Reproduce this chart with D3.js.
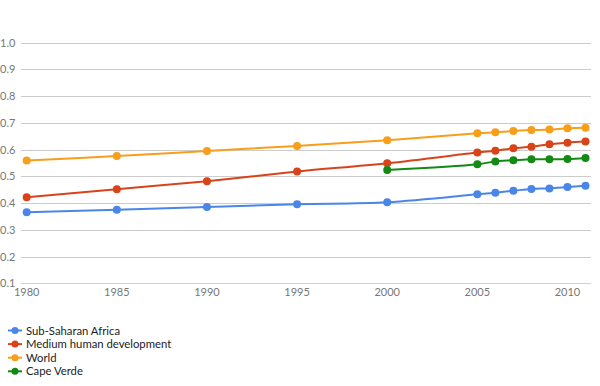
<!DOCTYPE html>
<html>
<head>
<meta charset="utf-8">
<script src="https://cdn.jsdelivr.net/npm/d3@7"></script>
<style>
	body { margin: 0; background: #fff; }
	svg { display: block; font-family: "Lato", "DejaVu Sans", sans-serif; }
</style>
</head>
<body>
<svg id="chart" width="600" height="386"></svg>
<script>
// data
const years = [1980, 1985, 1990, 1995, 2000, 2005, 2006, 2007, 2008, 2009, 2010, 2011];
const capeVerdeYears = [2000, 2005, 2006, 2007, 2008, 2009, 2010, 2011];
const subSaharan = [0.366, 0.375, 0.385, 0.396, 0.403, 0.433, 0.439, 0.446, 0.453, 0.455, 0.460, 0.465];
const mediumHD = [0.422, 0.452, 0.482, 0.518, 0.549, 0.589, 0.596, 0.605, 0.611, 0.620, 0.626, 0.630];
const world = [0.559, 0.576, 0.595, 0.614, 0.635, 0.661, 0.665, 0.670, 0.673, 0.675, 0.680, 0.682];
const capeVerde = [0.524, 0.545, 0.556, 0.560, 0.564, 0.564, 0.565, 0.569];
const yTicks = [0.1, 0.2, 0.3, 0.4, 0.5, 0.6, 0.7, 0.8, 0.9, 1.0];
const xTicks = [1980, 1985, 1990, 1995, 2000, 2005, 2010];

const series = [
	{name: "Sub-Saharan Africa", color: "#4a86e8", x: years, y: subSaharan},
	{name: "Medium human development", color: "#d9431a", x: years, y: mediumHD},
	{name: "World", color: "#f79e1b", x: years, y: world},
	{name: "Cape Verde", color: "#138a13", x: capeVerdeYears, y: capeVerde}
];

const svg = d3.select("#chart");

const x = d3.scaleLinear().domain([1980, 2011]).range([26.7, 585.5]);
const y = d3.scaleLinear().domain([0.1, 1.0]).range([283.3, 42.7]);

// gridlines
svg.append("g")
	.selectAll("line")
	.data(yTicks)
	.join("line")
	.attr("x1", 21).attr("x2", 591)
	.attr("y1", d => Math.round(y(d)) + 0.5)
	.attr("y2", d => Math.round(y(d)) + 0.5)
	.attr("stroke", d => d === 0.1 ? "#c5d5e8" : "#cccccc")
	.attr("stroke-width", 1);

// y labels
svg.append("g")
	.selectAll("text")
	.data(yTicks)
	.join("text")
	.attr("x", 0)
	.attr("y", d => y(d) + 4)
	.attr("font-size", 11)
	.attr("fill", "#777")
	.text(d => d3.format(".1f")(d));

// x labels
svg.append("g")
	.selectAll("text")
	.data(xTicks)
	.join("text")
	.attr("x", d => x(d))
	.attr("y", 296)
	.attr("text-anchor", "middle")
	.attr("font-size", 11)
	.attr("fill", "#777")
	.text(d => d);

const line = d3.line()
	.x(d => x(d[0]))
	.y(d => y(d[1]))
	.curve(d3.curveCatmullRom.alpha(0.5));

series.forEach(s => {
	const pts = s.x.map((yr, i) => [yr, s.y[i]]);
	const g = svg.append("g");
	g.append("path")
		.datum(pts)
		.attr("d", line)
		.attr("fill", "none")
		.attr("stroke", s.color)
		.attr("stroke-width", 2);
	g.selectAll("circle")
		.data(pts)
		.join("circle")
		.attr("cx", d => x(d[0]))
		.attr("cy", d => y(d[1]))
		.attr("r", 4)
		.attr("fill", s.color);
});

// legend
const legend = svg.append("g")
	.selectAll("g")
	.data(series)
	.join("g")
	.attr("transform", (d, i) => "translate(0," + (330.5 + i * 13.6) + ")");
legend.append("line")
	.attr("x1", 8).attr("x2", 22)
	.attr("stroke", d => d.color)
	.attr("stroke-width", 2);
legend.append("circle")
	.attr("cx", 15).attr("r", 3.5)
	.attr("fill", d => d.color);
legend.append("text")
	.attr("x", 26)
	.attr("y", 4)
	.attr("font-size", 11.3)
	.attr("fill", "#222")
	.text(d => d.name);
</script>
</body>
</html>
